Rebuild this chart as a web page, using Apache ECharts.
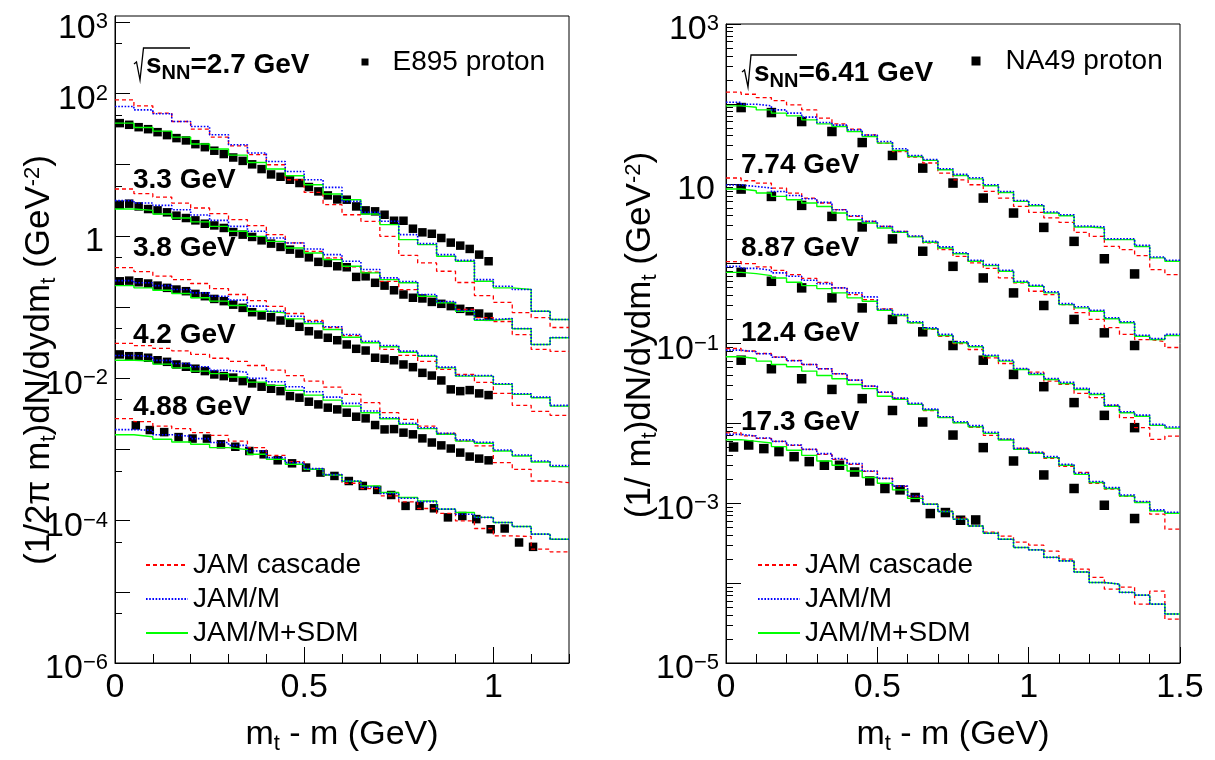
<!DOCTYPE html>
<html>
<head>
<meta charset="utf-8">
<script src="https://cdn.jsdelivr.net/npm/echarts@6/dist/echarts.min.js"></script>
<style>
  html, body { margin: 0; padding: 0; background: #fff; }
  #chart { width: 1215px; height: 760px; }
</style>
</head>
<body>
<div id="chart"></div>
<script>
// ---------- proton mt spectra: E895 (left) and NA49 (right) ----------

// measured points: x = mt - m (GeV)
const e895X = [0.0125, 0.0375, 0.0625, 0.0875, 0.1125, 0.1375, 0.1625, 0.1875, 0.2125, 0.2375,
  0.2625, 0.2875, 0.3125, 0.3375, 0.3625, 0.3875, 0.4125, 0.4375, 0.4625, 0.4875,
  0.5125, 0.5375, 0.5625, 0.5875, 0.6125, 0.6375, 0.6625, 0.6875, 0.7125, 0.7375,
  0.7625, 0.7875, 0.8125, 0.8375, 0.8625, 0.8875, 0.9125, 0.9375, 0.9625, 0.9875];
const e895X488 = [0.055, 0.092, 0.13, 0.168, 0.205, 0.243, 0.28, 0.318, 0.355, 0.393,
  0.43, 0.468, 0.505, 0.543, 0.58, 0.618, 0.655, 0.693, 0.73, 0.768,
  0.805, 0.843, 0.88, 0.918, 0.955, 0.993, 1.03, 1.068, 1.105];
const na49X = [0.05, 0.15, 0.25, 0.35, 0.45, 0.55, 0.65, 0.75, 0.85, 0.95, 1.05, 1.15, 1.25, 1.35];
const na49X173 = [0.025, 0.075, 0.125, 0.175, 0.225, 0.275, 0.325, 0.375, 0.425, 0.475,
  0.525, 0.575, 0.625, 0.675, 0.725, 0.775, 0.825];

// E895 proton yields (scaled per energy)
const e895_27 = [38.3, 36.3, 33.6, 31.5, 28.6, 26.0, 23.6, 21.9, 19.4, 17.6, 15.7, 14.1, 12.6, 11.3, 10.1,
  8.67, 7.29, 6.76, 6.14, 5.52, 4.85, 4.21, 3.70, 3.25, 3.22, 2.59, 2.28, 2.21, 1.98, 1.63, 1.63,
  1.26, 1.12, 1.07, 0.933, 0.803, 0.729, 0.655, 0.545, 0.440];
const e895_33 = [2.74, 2.83, 2.59, 2.38, 2.28, 2.14, 1.92, 1.78, 1.65, 1.48, 1.40, 1.29, 1.13, 1.04,
  0.965, 0.865, 0.778, 0.699, 0.640, 0.563, 0.499, 0.431, 0.417, 0.374, 0.362, 0.265, 0.270, 0.219,
  0.200, 0.172, 0.150, 0.135, 0.132, 0.118, 0.111, 0.103, 0.0944, 0.0873, 0.0811, 0.0729];
const e895_38 = [0.230, 0.235, 0.223, 0.214, 0.200, 0.186, 0.176, 0.167, 0.153, 0.142, 0.130, 0.121,
  0.108, 0.0974, 0.0846, 0.0760, 0.0719, 0.0647, 0.0600, 0.0528, 0.0458, 0.0411, 0.0370, 0.0342,
  0.0298, 0.0259, 0.0245, 0.0194, 0.0188, 0.0179, 0.0156, 0.0143, 0.0119, 0.0109, 0.00931, 0.00697,
  0.00659, 0.00681, 0.00612, 0.00580];
const e895_42 = [0.0216, 0.0204, 0.0204, 0.0194, 0.0179, 0.0170, 0.0156, 0.0145, 0.0136, 0.0126, 0.0113,
  0.0107, 0.0102, 0.00911, 0.00846, 0.00760, 0.00712, 0.00659, 0.00561, 0.00533, 0.00468, 0.00429,
  0.00386, 0.00365, 0.00328, 0.00288, 0.00273, 0.00220, 0.00191, 0.00193, 0.00172, 0.00163, 0.00143,
  0.00125, 0.00114, 0.00103, 0.000902, 0.000793, 0.000743, 0.000703];
const e895_488 = [0.00218, 0.00187, 0.00175, 0.00149, 0.00142, 0.00142, 0.00118, 0.00109, 0.000950,
  0.000854, 0.000703, 0.000638, 0.000556, 0.000473, 0.000424, 0.000360, 0.000307, 0.000270, 0.000229,
  0.000161, 0.000161, 0.000149, 0.000111, 0.000116, 0.000105, 0.0000757, 0.0000775, 0.0000493, 0.0000428];

// NA49 proton yields
const na49_641 = [89.9, 77.8, 60.1, 45.1, 32.8, 22.6, 15.7, 10.2, 6.62, 4.30, 2.84, 1.90, 1.15, 0.743];
const na49_774 = [8.58, 6.94, 5.36, 3.90, 2.88, 2.04, 1.43, 0.925, 0.662, 0.430, 0.299, 0.200, 0.136, 0.0944];
const na49_887 = [0.778, 0.601, 0.497, 0.373, 0.279, 0.200, 0.140, 0.0944, 0.0618, 0.0410, 0.0288, 0.0182, 0.0126, 0.00884];
const na49_124 = [0.0618, 0.0483, 0.0362, 0.0266, 0.0204, 0.0145, 0.0104, 0.00714, 0.00497, 0.00338, 0.00226, 0.00153, 0.000944, 0.000644];
const na49_173 = [0.00506, 0.00536, 0.00483, 0.00443, 0.00383, 0.00332, 0.00299, 0.00299, 0.00246, 0.00190,
  0.00153, 0.00147, 0.00118, 0.000743, 0.000765, 0.000613, 0.000618];

// model histograms: bin centres (GeV)
const leftBins = [0.025, 0.075, 0.125, 0.175, 0.225, 0.275, 0.325, 0.375, 0.425, 0.475, 0.525, 0.575,
  0.625, 0.675, 0.725, 0.775, 0.825, 0.875, 0.925, 0.975, 1.025, 1.075, 1.125, 1.175];
const rightBins = [0.025, 0.075, 0.125, 0.175, 0.225, 0.275, 0.325, 0.375, 0.425, 0.475, 0.525, 0.575,
  0.625, 0.675, 0.725, 0.775, 0.825, 0.875, 0.925, 0.975, 1.025, 1.075, 1.125, 1.175, 1.225, 1.275,
  1.325, 1.375, 1.425, 1.475];

// JAM cascade / JAM/M / JAM/M+SDM, left panel
const cas27 = [81.3, 67.0, 53.0, 40.4, 31.6, 24.4, 18.4, 13.8, 9.97, 6.14, 4.08, 2.74, 1.98, 1.60, 0.984, 0.533, 0.417, 0.318, 0.221, 0.145, 0.116, 0.0837, 0.0712, 0.0516];
const jm27 = [65.5, 58.9, 51.8, 40.4, 34.3, 26.3, 19.0, 14.6, 11.1, 8.03, 6.14, 4.79, 3.05, 2.14, 1.60, 1.04, 0.778, 0.545, 0.453, 0.243, 0.196, 0.176, 0.0873, 0.0668];
const sdm27 = [38.3, 33.3, 29.6, 24.4, 19.5, 16.6, 13.6, 10.7, 8.68, 6.99, 5.23, 3.87, 3.22, 2.03, 1.44, 0.885, 0.753, 0.516, 0.439, 0.230, 0.186, 0.176, 0.0873, 0.0668];
const cas33 = [4.55, 3.91, 3.51, 2.89, 2.46, 2.05, 1.69, 1.39, 1.04, 0.795, 0.606, 0.490, 0.366, 0.308, 0.230, 0.176, 0.140, 0.116, 0.0923, 0.0712, 0.0626, 0.0411, 0.0254, 0.0238];
const jm33 = [3.12, 2.89, 2.68, 2.33, 1.96, 1.65, 1.36, 1.16, 0.934, 0.795, 0.655, 0.545, 0.439, 0.336, 0.257, 0.228, 0.150, 0.119, 0.0893, 0.0668, 0.0690, 0.0499, 0.0298, 0.0373];
const sdm33 = [2.38, 2.28, 2.03, 1.78, 1.57, 1.36, 1.16, 0.984, 0.837, 0.676, 0.575, 0.464, 0.374, 0.302, 0.243, 0.219, 0.142, 0.115, 0.0873, 0.0653, 0.0683, 0.0495, 0.0298, 0.0370];
const cas38 = [0.358, 0.315, 0.272, 0.243, 0.214, 0.182, 0.150, 0.123, 0.102, 0.0811, 0.0647, 0.0516, 0.0398, 0.0318, 0.0254, 0.0209, 0.0172, 0.0133, 0.0113, 0.00873, 0.00612, 0.00416, 0.00342, 0.00301];
const jm38 = [0.235, 0.219, 0.200, 0.176, 0.158, 0.142, 0.125, 0.103, 0.0873, 0.0743, 0.0620, 0.0528, 0.0411, 0.0331, 0.0288, 0.0240, 0.0209, 0.0143, 0.0109, 0.0109, 0.00837, 0.00606, 0.00543, 0.00416];
const sdm38 = [0.200, 0.186, 0.172, 0.155, 0.135, 0.121, 0.105, 0.0873, 0.0829, 0.0683, 0.0587, 0.0484, 0.0377, 0.0315, 0.0277, 0.0232, 0.0204, 0.0140, 0.0107, 0.0107, 0.00819, 0.00593, 0.00533, 0.00406];
const cas42 = [0.0308, 0.0288, 0.0262, 0.0243, 0.0216, 0.0191, 0.0172, 0.0151, 0.0130, 0.0109, 0.00911, 0.00750, 0.00593, 0.00453, 0.00328, 0.00264, 0.00213, 0.00168, 0.00131, 0.00112, 0.000653, 0.000526, 0.000360, 0.000342];
const jm42 = [0.0209, 0.0200, 0.0178, 0.0161, 0.0145, 0.0129, 0.0121, 0.00994, 0.00893, 0.00760, 0.00647, 0.00543, 0.00443, 0.00346, 0.00279, 0.00232, 0.00202, 0.00168, 0.00136, 0.00126, 0.000981, 0.000835, 0.000688, 0.000593];
const sdm42 = [0.0179, 0.0174, 0.0158, 0.0140, 0.0126, 0.0116, 0.0104, 0.00882, 0.00793, 0.00675, 0.00580, 0.00493, 0.00406, 0.00328, 0.00270, 0.00225, 0.00196, 0.00163, 0.00131, 0.00122, 0.000950, 0.000808, 0.000666, 0.000574];
const cas488 = [0.00270, 0.00245, 0.00213, 0.00196, 0.00172, 0.00158, 0.00131, 0.00106, 0.000827, 0.000675, 0.000526, 0.000438, 0.000335, 0.000282, 0.000222, 0.000183, 0.000148, 0.000126, 0.0000990, 0.0000775, 0.0000610, 0.0000598, 0.0000397, 0.0000364];
const jm488 = [0.00190, 0.00185, 0.00161, 0.00153, 0.00142, 0.00125, 0.00114, 0.000950, 0.000767, 0.000653, 0.000538, 0.000443, 0.000360, 0.000297, 0.000240, 0.000206, 0.000185, 0.000145, 0.000123, 0.000111, 0.0000940, 0.0000827, 0.0000645, 0.0000548];
const sdm488 = [0.00161, 0.00151, 0.00139, 0.00127, 0.00118, 0.00106, 0.000994, 0.000854, 0.000727, 0.000618, 0.000526, 0.000438, 0.000357, 0.000307, 0.000248, 0.000211, 0.000189, 0.000145, 0.000130, 0.000111, 0.0000940, 0.0000827, 0.0000645, 0.0000548];

// JAM cascade / JAM/M / JAM/M+SDM, right panel
const cas641 = [140, 132, 120, 110, 97.2, 84.1, 66.2, 56.2, 48.3, 41.0, 32.3, 25.3, 21.6, 18.2, 13.6, 11.2, 9.72, 8.01, 6.62, 5.20, 4.38, 3.73, 3.28, 2.46, 2.19, 1.64, 1.50, 1.26, 0.841, 0.729];
const jm641 = [105, 99.1, 94.4, 84.1, 76.5, 68.2, 58.4, 54.2, 47.3, 40.6, 33.8, 27.4, 22.6, 20.1, 15.4, 13.1, 11.9, 9.72, 8.01, 6.18, 5.46, 4.43, 4.10, 2.96, 2.88, 2.05, 2.05, 1.69, 1.21, 1.10];
const sdm641 = [94.4, 90.9, 84.1, 76.5, 70.8, 63.1, 56.2, 52.0, 45.1, 39.0, 32.3, 26.1, 21.9, 19.6, 15.0, 12.7, 11.5, 9.44, 7.78, 6.01, 5.31, 4.30, 3.98, 2.88, 2.79, 2.00, 2.00, 1.64, 1.18, 1.07];
const cas774 = [11.8, 10.9, 10.2, 8.84, 7.65, 6.62, 5.74, 4.73, 3.90, 3.38, 2.93, 2.53, 2.19, 1.82, 1.50, 1.23, 1.02, 0.874, 0.662, 0.574, 0.451, 0.410, 0.307, 0.244, 0.200, 0.158, 0.130, 0.112, 0.106, 0.0891];
const jm774 = [9.63, 9.25, 8.84, 8.01, 7.14, 6.49, 5.84, 4.73, 3.98, 3.38, 2.93, 2.53, 2.22, 1.90, 1.62, 1.37, 1.10, 0.972, 0.825, 0.601, 0.536, 0.443, 0.316, 0.288, 0.261, 0.210, 0.187, 0.127, 0.115, 0.130];
const sdm774 = [8.58, 8.18, 7.65, 6.94, 6.31, 5.74, 5.20, 4.30, 3.55, 3.23, 2.79, 2.46, 2.16, 1.85, 1.57, 1.33, 1.07, 0.944, 0.801, 0.584, 0.520, 0.430, 0.307, 0.279, 0.253, 0.204, 0.182, 0.123, 0.112, 0.126];
const cas887 = [1.06, 1.00, 0.909, 0.825, 0.729, 0.655, 0.584, 0.497, 0.410, 0.355, 0.272, 0.224, 0.182, 0.150, 0.123, 0.100, 0.0841, 0.0662, 0.0562, 0.0473, 0.0438, 0.0338, 0.0307, 0.0237, 0.0210, 0.0168, 0.0118, 0.00884, 0.00631, 0.00694];
const jm887 = [0.925, 0.873, 0.825, 0.765, 0.694, 0.618, 0.562, 0.497, 0.430, 0.383, 0.268, 0.230, 0.187, 0.157, 0.130, 0.105, 0.0936, 0.0714, 0.0618, 0.0487, 0.0422, 0.0365, 0.0326, 0.0274, 0.0237, 0.0169, 0.0140, 0.0127, 0.00972, 0.00899];
const sdm887 = [0.778, 0.750, 0.708, 0.662, 0.584, 0.531, 0.487, 0.430, 0.373, 0.338, 0.261, 0.224, 0.182, 0.153, 0.126, 0.102, 0.0909, 0.0694, 0.0601, 0.0473, 0.0410, 0.0355, 0.0316, 0.0266, 0.0230, 0.0164, 0.0136, 0.0123, 0.00944, 0.00873];
const cas124 = [0.0866, 0.0806, 0.0750, 0.0678, 0.0613, 0.0546, 0.0483, 0.0418, 0.0348, 0.0293, 0.0244, 0.0205, 0.0173, 0.0145, 0.0119, 0.0102, 0.00891, 0.00708, 0.00631, 0.00487, 0.00434, 0.00365, 0.00290, 0.00244, 0.00178, 0.00150, 0.00122, 0.00103, 0.000729, 0.000473];
const jm124 = [0.0825, 0.0788, 0.0743, 0.0674, 0.0608, 0.0546, 0.0483, 0.0418, 0.0348, 0.0293, 0.0246, 0.0207, 0.0178, 0.0151, 0.0121, 0.0105, 0.00936, 0.00772, 0.00637, 0.00487, 0.00434, 0.00383, 0.00307, 0.00237, 0.00187, 0.00157, 0.00127, 0.00105, 0.000825, 0.000772];
const sdm124 = [0.0682, 0.0649, 0.0601, 0.0546, 0.0512, 0.0451, 0.0398, 0.0362, 0.0307, 0.0272, 0.0219, 0.0200, 0.0173, 0.0147, 0.0118, 0.0102, 0.00909, 0.00750, 0.00618, 0.00473, 0.00422, 0.00373, 0.00299, 0.00230, 0.00182, 0.00153, 0.00123, 0.00102, 0.000801, 0.000750];
const cas173 = [0.00761, 0.00698, 0.00649, 0.00596, 0.00531, 0.00473, 0.00410, 0.00355, 0.00307, 0.00251, 0.00205, 0.00163, 0.00122, 0.000972, 0.000794, 0.000649, 0.000516, 0.000434, 0.000387, 0.000326, 0.000299, 0.000251, 0.000200, 0.000150, 0.000118, 0.0000841, 0.0000891, 0.0000546, 0.0000794, 0.0000355];
const jm173 = [0.00729, 0.00694, 0.00655, 0.00596, 0.00536, 0.00473, 0.00418, 0.00362, 0.00313, 0.00253, 0.00205, 0.00164, 0.00123, 0.000972, 0.000788, 0.000631, 0.000520, 0.000422, 0.000355, 0.000279, 0.000261, 0.000210, 0.000190, 0.000138, 0.000102, 0.0000972, 0.0000765, 0.0000708, 0.0000546, 0.0000410];
const sdm173 = [0.00625, 0.00596, 0.00567, 0.00512, 0.00460, 0.00398, 0.00338, 0.00299, 0.00253, 0.00210, 0.00178, 0.00147, 0.00115, 0.000972, 0.000788, 0.000631, 0.000520, 0.000422, 0.000355, 0.000279, 0.000261, 0.000210, 0.000190, 0.000138, 0.000102, 0.0000972, 0.0000765, 0.0000708, 0.0000546, 0.0000410];

// axis ticks and labels
const leftXTicks = [0, 0.1, 0.2, 0.3, 0.4, 0.5, 0.6, 0.7, 0.8, 0.9, 1.0, 1.1, 1.2];
const rightXTicks = [0, 0.1, 0.2, 0.3, 0.4, 0.5, 0.6, 0.7, 0.8, 0.9, 1.0, 1.1, 1.2, 1.3, 1.4, 1.5];
const leftXLabels = [0, 0.5, 1];
const rightXLabels = [0, 0.5, 1, 1.5];
const leftYDecades = [1e-6, 1e-5, 1e-4, 1e-3, 1e-2, 1e-1, 1, 10, 100, 1000];
const leftYMinor = [5e-6, 5e-5, 5e-4, 5e-3, 5e-2, 0.5, 5, 50, 500];
const leftYLabels = [1e-6, 1e-4, 1e-2, 1, 100, 1000];
const rightYDecades = [1e-5, 1e-4, 1e-3, 1e-2, 1e-1, 1, 10, 100, 1000];
const rightYLabels = [1e-5, 1e-3, 1e-1, 10, 1000];
const rightYMinor = [];
rightYDecades.slice(0, -1).forEach(d => { for (let k = 2; k <= 9; k++) rightYMinor.push(+(k * d).toPrecision(3)); });

const FONT = '"Liberation Sans", Arial, Helvetica, sans-serif';
const HALF_BIN = 0.025;

const MODEL_STYLE = {
  'JAM cascade': { color: '#ff0000', type: [4, 3], width: 1.3, z: 3 },
  'JAM/M+SDM': { color: '#00ff00', type: 'solid', width: 1.4, z: 4 },
  'JAM/M': { color: '#0000ff', type: [1.6, 1.6], width: 1.6, z: 5 }
};

function points(xs, ys) { return xs.map((x, i) => [x, ys[i]]); }
function histogram(centres, ys) {
  const d = centres.map((c, i) => [c - HALF_BIN, ys[i]]);
  d.push([centres[centres.length - 1] + HALF_BIN, ys[ys.length - 1]]);
  return d;
}

const series = [];
function addData(name, xs, ys, xi, yi, size) {
  series.push({
    name, type: 'scatter', xAxisIndex: xi, yAxisIndex: yi, data: points(xs, ys),
    symbol: 'rect', symbolSize: size, itemStyle: { color: '#000', opacity: 1 }, z: 2, silent: true
  });
}
function addModel(name, centres, ys, xi, yi) {
  const s = MODEL_STYLE[name];
  series.push({
    name, type: 'line', step: 'end', xAxisIndex: xi, yAxisIndex: yi,
    data: histogram(centres, ys), showSymbol: false, symbol: 'none', clip: true,
    lineStyle: { color: s.color, type: s.type, width: s.width }, itemStyle: { color: s.color },
    z: s.z, silent: true
  });
}

addData('E895 proton', e895X, e895_27, 0, 0, 8.5);
addData('E895 proton', e895X, e895_33, 0, 0, 8.5);
addData('E895 proton', e895X, e895_38, 0, 0, 8.5);
addData('E895 proton', e895X, e895_42, 0, 0, 8.5);
addData('E895 proton', e895X488, e895_488, 0, 0, 8.5);
[[cas27, jm27, sdm27], [cas33, jm33, sdm33], [cas38, jm38, sdm38], [cas42, jm42, sdm42], [cas488, jm488, sdm488]]
  .forEach(([c, m, s]) => {
    addModel('JAM cascade', leftBins, c, 0, 0);
    addModel('JAM/M+SDM', leftBins, s, 0, 0);
    addModel('JAM/M', leftBins, m, 0, 0);
  });

addData('NA49 proton', na49X, na49_641, 2, 2, 9.5);
addData('NA49 proton', na49X, na49_774, 2, 2, 9.5);
addData('NA49 proton', na49X, na49_887, 2, 2, 9.5);
addData('NA49 proton', na49X, na49_124, 2, 2, 9.5);
addData('NA49 proton', na49X173, na49_173, 2, 2, 9.5);
[[cas641, jm641, sdm641], [cas774, jm774, sdm774], [cas887, jm887, sdm887], [cas124, jm124, sdm124], [cas173, jm173, sdm173]]
  .forEach(([c, m, s]) => {
    addModel('JAM cascade', rightBins, c, 2, 2);
    addModel('JAM/M+SDM', rightBins, s, 2, 2);
    addModel('JAM/M', rightBins, m, 2, 2);
  });

// ---------- axes ----------
const black = { color: '#000', width: 1 };
const tickRich = {
  b: { fontSize: 34, lineHeight: 34, verticalAlign: 'bottom', fontFamily: FONT, color: '#000' },
  c: { fontSize: 34, lineHeight: 34, verticalAlign: 'bottom', fontFamily: FONT, color: '#000', padding: [0, 4, 0, 0] },
  e: { fontSize: 22, lineHeight: 16, verticalAlign: 'top', fontFamily: FONT, color: '#000' }
};
function powLabel(v) {
  const e = Math.round(Math.log10(v));
  if (e === 0) return '{c|1}';
  if (e === 1) return '{c|10}';
  return '{b|10}{e|' + (e < 0 ? '\u2212' + (-e) : e) + '}';
}
// sub/superscripts: main text pinned to the top of the line box, the small
// token shifted with top padding (subscript) or left at the top (superscript)
const nameRich = {
  a: { fontSize: 34, lineHeight: 34, verticalAlign: 'top', fontFamily: FONT, color: '#000' },
  s: { fontSize: 22, lineHeight: 22, verticalAlign: 'top', padding: [15, 0, 0, 0], fontFamily: FONT, color: '#000' }
};

function xMain(grid, max, labels) {
  return {
    type: 'value', gridIndex: grid, min: 0, max, position: 'bottom',
    axisLine: { show: true, onZero: false, lineStyle: black },
    axisTick: { show: true, inside: true, length: 16, customValues: labels, lineStyle: black },
    axisLabel: { show: true, customValues: labels, margin: 8, fontSize: 34, fontFamily: FONT, color: '#000',
      formatter: v => String(v) },
    splitLine: { show: false },
    name: '{a|m}{s|t}{a| - m (GeV)}', nameLocation: 'middle', nameGap: 55,
    nameTextStyle: { rich: nameRich }
  };
}
function xMinor(grid, max, ticks) {
  return {
    type: 'value', gridIndex: grid, min: 0, max, position: 'bottom',
    axisLine: { show: false },
    axisTick: { show: true, inside: true, length: 9, customValues: ticks, lineStyle: black },
    axisLabel: { show: false }, splitLine: { show: false }
  };
}
function yMain(grid, min, max, decades, labels) {
  return {
    type: 'log', logBase: 10, gridIndex: grid, min, max, position: 'left',
    axisLine: { show: true, onZero: false, lineStyle: black },
    axisTick: { show: true, inside: true, length: 15, customValues: decades, lineStyle: black },
    axisLabel: { show: true, customValues: labels, margin: 7, padding: [12, 0, 0, 0],
      formatter: powLabel, rich: tickRich },
    splitLine: { show: false }, minorTick: { show: false }
  };
}
function yMinor(grid, min, max, ticks) {
  return {
    type: 'log', logBase: 10, gridIndex: grid, min, max, position: 'left',
    axisLine: { show: false },
    axisTick: { show: true, inside: true, length: 7, customValues: ticks, lineStyle: black },
    axisLabel: { show: false }, splitLine: { show: false }
  };
}

// ---------- legends ----------
const legendText = { fontSize: 28, fontFamily: FONT, color: '#000', lineHeight: 28 };
const modelNames = ['JAM cascade', 'JAM/M', 'JAM/M+SDM'];
const legends = [
  { data: [{ name: 'E895 proton', icon: 'rect' }], left: 361.5, top: 48, padding: 0,
    itemWidth: 7, itemHeight: 7, selectedMode: false,
    textStyle: Object.assign({ padding: [0, 0, 0, 19] }, legendText) },
  { data: [{ name: 'NA49 proton', icon: 'rect' }], left: 971.5, top: 47, padding: 0,
    itemWidth: 9, itemHeight: 9, selectedMode: false,
    textStyle: Object.assign({ padding: [0, 0, 0, 20] }, legendText) },
  { data: modelNames, orient: 'vertical', left: 145, top: 551, padding: 0,
    itemWidth: 42, itemHeight: 14, itemGap: 6, selectedMode: false, textStyle: legendText,
    itemStyle: { opacity: 0 } },
  { data: modelNames, orient: 'vertical', left: 757, top: 551, padding: 0,
    itemWidth: 42, itemHeight: 14, itemGap: 6, selectedMode: false, textStyle: legendText,
    itemStyle: { opacity: 0 } }
];

// ---------- annotations ----------
const boldRich = {
  s: { fontSize: 28, lineHeight: 28, fontWeight: 'bold', verticalAlign: 'top', fontFamily: FONT, fill: '#000' },
  n: { fontSize: 20, lineHeight: 20, fontWeight: 'bold', verticalAlign: 'top', padding: [12, 0, 0, 0], fontFamily: FONT, fill: '#000' }
};
function label(x, y, text) {
  return { type: 'text', x, y, silent: true,
    style: { text, fill: '#000', font: 'bold 28px ' + FONT, verticalAlign: 'middle', align: 'left' } };
}
function sqrtLabel(x, y, energy) {
  return { type: 'text', x, y, silent: true,
    style: { text: '{s|s}{n|NN}{s|=' + energy + '}', rich: boldRich, verticalAlign: 'middle', align: 'left' } };
}
function radical(pts) {
  return { type: 'polyline', silent: true, shape: { points: pts },
    style: { stroke: '#000', lineWidth: 1.3, fill: null } };
}
const yTitleRich = {
  a: { fontSize: 35, lineHeight: 35, verticalAlign: 'top', fontFamily: FONT, fill: '#000' },
  s: { fontSize: 22, lineHeight: 22, verticalAlign: 'top', padding: [16, 0, 0, 0], fontFamily: FONT, fill: '#000' },
  p: { fontSize: 22, lineHeight: 22, verticalAlign: 'top', fontFamily: FONT, fill: '#000' }
};
function yTitle(x, y, text) {
  return { type: 'text', x, y, rotation: Math.PI / 2, silent: true,
    style: { text, rich: yTitleRich, align: 'center', verticalAlign: 'middle' } };
}

const graphic = [
  radical([[134, 64], [136.5, 62], [140, 80], [143.5, 48], [190, 48]]),
  sqrtLabel(146, 65, '2.7 GeV'),
  label(133, 180, '3.3 GeV'),
  label(133, 248, '3.8 GeV'),
  label(133, 335, '4.2 GeV'),
  label(133, 407, '4.88 GeV'),
  radical([[742, 72], [744.5, 70], [748, 87], [751, 55], [797, 55]]),
  sqrtLabel(754, 73, '6.41 GeV'),
  label(741, 165, '7.74 GeV'),
  label(741, 248, '8.87 GeV'),
  label(741, 333, '12.4 GeV'),
  label(741, 422, '17.3 GeV'),
  yTitle(39, 360, '{a|(1/2\u03c0 m}{s|t}{a|)dN/dydm}{s|t}{a| (GeV}{p|-2}{a|)}'),
  yTitle(640, 335, '{a|(1/ m}{s|t}{a|)dN/dydm}{s|t}{a| (GeV}{p|-2}{a|)}')
];

const option = {
  animation: false,
  backgroundColor: '#fff',
  textStyle: { fontFamily: FONT },
  grid: [
    { left: 115, top: 16, width: 454, height: 648, show: true, borderColor: '#000', borderWidth: 1, backgroundColor: 'transparent' },
    { left: 726, top: 24, width: 454, height: 640, show: true, borderColor: '#000', borderWidth: 1, backgroundColor: 'transparent' }
  ],
  xAxis: [
    xMain(0, 1.2, leftXLabels), xMinor(0, 1.2, leftXTicks),
    xMain(1, 1.5, rightXLabels), xMinor(1, 1.5, rightXTicks)
  ],
  yAxis: [
    yMain(0, 1e-6, 1225, leftYDecades, leftYLabels), yMinor(0, 1e-6, 1225, leftYMinor),
    yMain(1, 1e-5, 1000, rightYDecades, rightYLabels), yMinor(1, 1e-5, 1000, rightYMinor)
  ],
  legend: legends,
  series,
  graphic
};

const chart = echarts.init(document.getElementById('chart'), null, { renderer: 'canvas' });
chart.setOption(option);
</script>
</body>
</html>
